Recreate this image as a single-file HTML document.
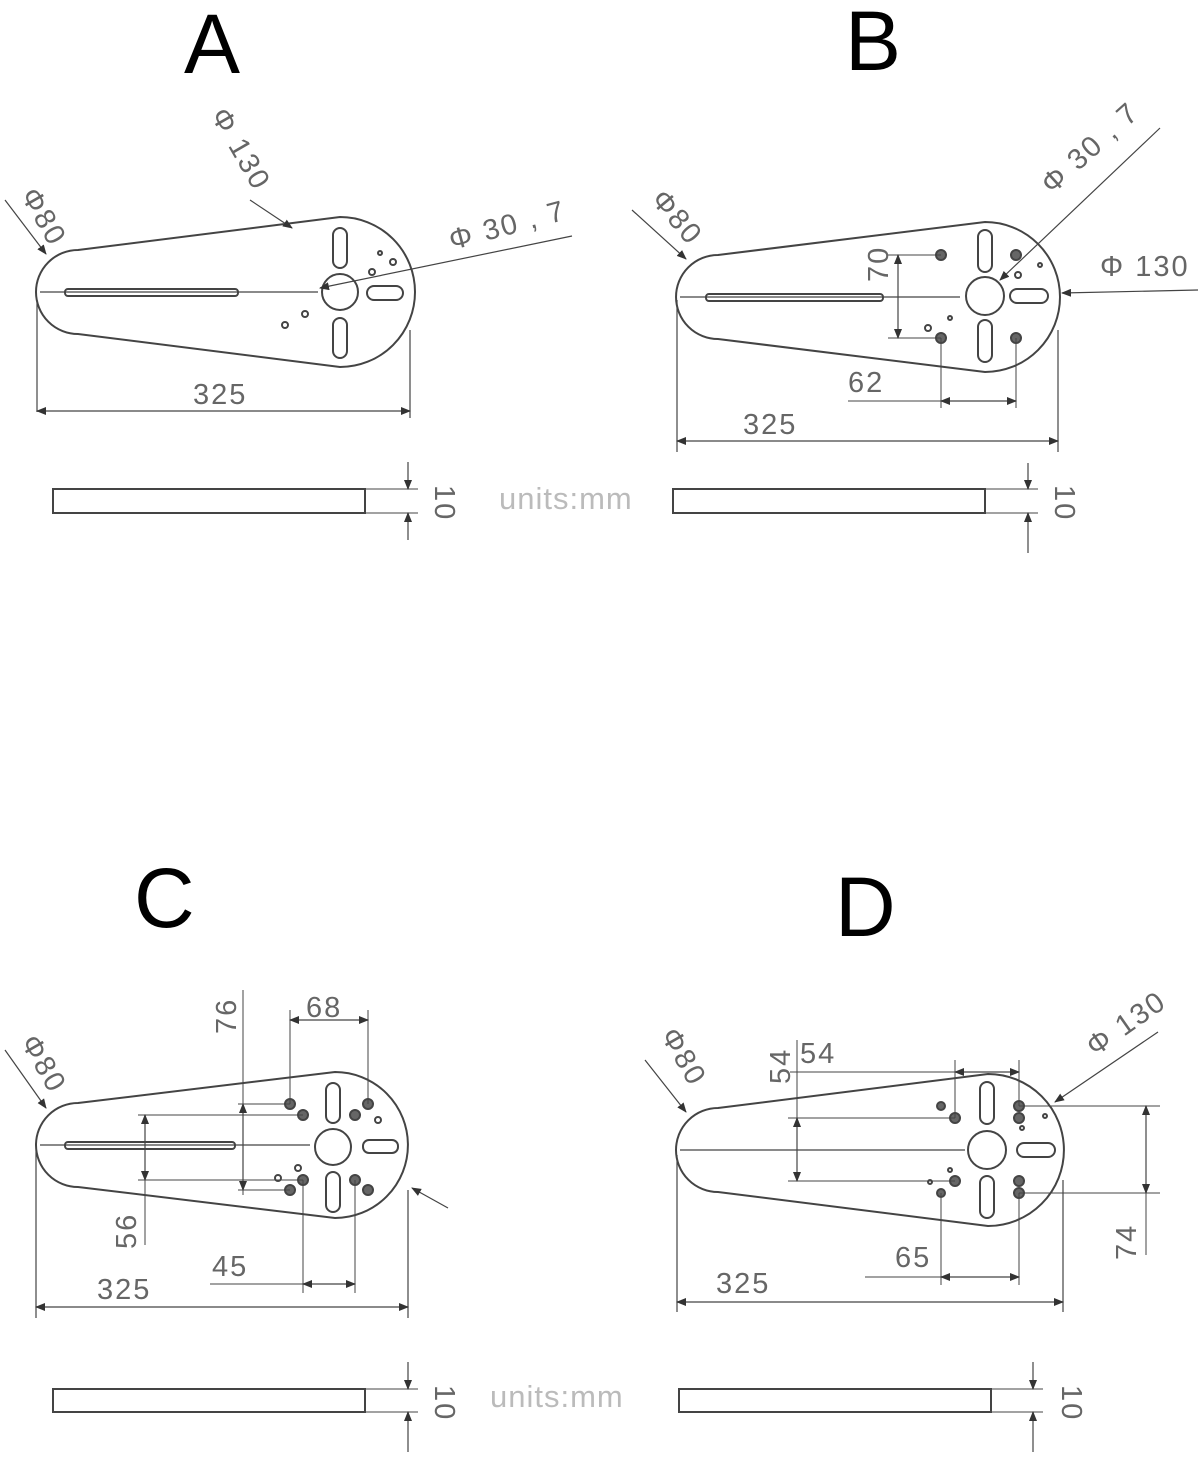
<!DOCTYPE html>
<html><head><meta charset="utf-8"><style>
html,body{margin:0;padding:0;background:#fff;}
svg{display:block}
text{font-family:"Liberation Sans",sans-serif;fill:#555}
.big{font-size:84px;fill:#000}
.d{font-size:29px;fill:#666;letter-spacing:2px}
.u{font-size:31px;fill:#bbb;letter-spacing:1px}
</style></head><body>
<svg width="1203" height="1457" viewBox="0 0 1203 1457" xmlns="http://www.w3.org/2000/svg">
<defs>
<marker id="ar" markerWidth="10" markerHeight="8" refX="9" refY="4" orient="auto-start-reverse" markerUnits="userSpaceOnUse"><path d="M0,0 L10,4 L0,8 z" fill="#333"/></marker>
</defs>
<g stroke="#444" stroke-width="2" fill="none">
<!-- A -->
<path d="M78,250 L340,217 A75,75 0 0 1 340,367 L78,334 A42,42 0 0 1 78,250 Z"/>
<line x1="40" y1="292" x2="318" y2="292" stroke-width="1.2"/>
<rect x="65" y="289" width="173" height="7" rx="3"/>
<circle cx="340" cy="292" r="18"/>
<rect x="333" y="228" width="14" height="40" rx="7"/>
<rect x="333" y="318" width="14" height="40" rx="7"/>
<rect x="367" y="286" width="36" height="14" rx="7"/>
<circle cx="372" cy="272" r="3"/><circle cx="393" cy="262" r="3"/><circle cx="305" cy="314" r="3"/><circle cx="285" cy="325" r="3"/><circle cx="380" cy="253" r="2"/>
<line x1="37" y1="300" x2="37" y2="412" stroke-width="1.2"/>
<line x1="410" y1="330" x2="410" y2="418" stroke-width="1.2"/>
<line x1="37" y1="411" x2="410" y2="411" stroke-width="1.2" marker-start="url(#ar)" marker-end="url(#ar)"/>
<line x1="5" y1="200" x2="46" y2="254" stroke-width="1.2" marker-end="url(#ar)"/>
<line x1="250" y1="200" x2="292" y2="228" stroke-width="1.2" marker-end="url(#ar)"/>
<line x1="572" y1="236" x2="320" y2="288" stroke-width="1.2" marker-end="url(#ar)"/>
<rect x="53" y="489" width="312" height="24"/>
<line x1="365" y1="489" x2="418" y2="489" stroke-width="1"/><line x1="365" y1="513" x2="418" y2="513" stroke-width="1"/>
<line x1="408" y1="462" x2="408" y2="489" stroke-width="1.2" marker-end="url(#ar)"/>
<line x1="408" y1="540" x2="408" y2="513" stroke-width="1.2" marker-end="url(#ar)"/>
<!-- B -->
<path d="M718,255 L985,222 A75,75 0 0 1 985,372 L718,339 A42,42 0 0 1 718,255 Z"/>
<line x1="680" y1="297" x2="960" y2="297" stroke-width="1.2"/>
<rect x="706" y="294" width="177" height="7" rx="3"/>
<circle cx="985" cy="296" r="19"/>
<rect x="978" y="230" width="14" height="42" rx="7"/>
<rect x="978" y="320" width="14" height="42" rx="7"/>
<rect x="1010" y="289" width="38" height="14" rx="7"/>
<circle cx="941" cy="255" r="5" fill="#666"/><circle cx="1016" cy="255" r="5" fill="#666"/><circle cx="941" cy="338" r="5" fill="#666"/><circle cx="1016" cy="338" r="5" fill="#666"/>
<circle cx="1018" cy="275" r="3"/><circle cx="1040" cy="265" r="2"/><circle cx="950" cy="318" r="2"/><circle cx="928" cy="328" r="3"/>
<line x1="888" y1="255" x2="941" y2="255" stroke-width="1"/><line x1="888" y1="338" x2="941" y2="338" stroke-width="1"/>
<line x1="898" y1="255" x2="898" y2="338" stroke-width="1.2" marker-start="url(#ar)" marker-end="url(#ar)"/>
<line x1="941" y1="338" x2="941" y2="408" stroke-width="1"/><line x1="1016" y1="338" x2="1016" y2="408" stroke-width="1"/>
<line x1="848" y1="401" x2="1016" y2="401" stroke-width="1"/>
<line x1="941" y1="401" x2="1016" y2="401" stroke-width="1.2" marker-start="url(#ar)" marker-end="url(#ar)"/>
<line x1="677" y1="300" x2="677" y2="452" stroke-width="1.2"/>
<line x1="1058" y1="330" x2="1058" y2="452" stroke-width="1.2"/>
<line x1="677" y1="441" x2="1058" y2="441" stroke-width="1.2" marker-start="url(#ar)" marker-end="url(#ar)"/>
<line x1="632" y1="210" x2="686" y2="259" stroke-width="1.2" marker-end="url(#ar)"/>
<line x1="1160" y1="128" x2="1000" y2="280" stroke-width="1.2" marker-end="url(#ar)"/>
<line x1="1198" y1="290" x2="1062" y2="293" stroke-width="1.2" marker-end="url(#ar)"/>
<rect x="673" y="489" width="312" height="24"/>
<line x1="985" y1="489" x2="1038" y2="489" stroke-width="1"/><line x1="985" y1="513" x2="1038" y2="513" stroke-width="1"/>
<line x1="1028" y1="463" x2="1028" y2="489" stroke-width="1.2" marker-end="url(#ar)"/>
<line x1="1028" y1="553" x2="1028" y2="513" stroke-width="1.2" marker-end="url(#ar)"/>
<!-- C -->
<path d="M78,1103 L335,1072 A73,73 0 0 1 335,1218 L78,1187 A42,42 0 0 1 78,1103 Z"/>
<line x1="40" y1="1145" x2="310" y2="1145" stroke-width="1.2"/>
<rect x="65" y="1142" width="170" height="7" rx="3"/>
<circle cx="333" cy="1147" r="18"/>
<rect x="326" y="1083" width="14" height="40" rx="7"/>
<rect x="326" y="1172" width="14" height="40" rx="7"/>
<rect x="363" y="1140" width="35" height="13" rx="6"/>
<circle cx="290" cy="1104" r="5" fill="#666"/><circle cx="303" cy="1115" r="5" fill="#666"/><circle cx="290" cy="1190" r="5" fill="#666"/><circle cx="303" cy="1180" r="5" fill="#666"/>
<circle cx="355" cy="1115" r="5" fill="#666"/><circle cx="368" cy="1104" r="5" fill="#666"/><circle cx="355" cy="1180" r="5" fill="#666"/><circle cx="368" cy="1190" r="5" fill="#666"/>
<circle cx="378" cy="1120" r="3"/><circle cx="298" cy="1168" r="3"/><circle cx="278" cy="1178" r="3"/>
<line x1="243" y1="990" x2="243" y2="1195" stroke-width="1"/>
<line x1="243" y1="1104" x2="243" y2="1190" stroke-width="1.2" marker-start="url(#ar)" marker-end="url(#ar)"/>
<line x1="238" y1="1104" x2="290" y2="1104" stroke-width="1"/><line x1="238" y1="1190" x2="290" y2="1190" stroke-width="1"/>
<line x1="138" y1="1115" x2="303" y2="1115" stroke-width="1"/><line x1="138" y1="1180" x2="303" y2="1180" stroke-width="1"/>
<line x1="145" y1="1115" x2="145" y2="1180" stroke-width="1.2" marker-start="url(#ar)" marker-end="url(#ar)"/>
<line x1="145" y1="1180" x2="145" y2="1245" stroke-width="1"/>
<line x1="290" y1="1010" x2="290" y2="1104" stroke-width="1"/><line x1="368" y1="1010" x2="368" y2="1104" stroke-width="1"/>
<line x1="290" y1="1020" x2="368" y2="1020" stroke-width="1.2" marker-start="url(#ar)" marker-end="url(#ar)"/>
<line x1="303" y1="1180" x2="303" y2="1293" stroke-width="1"/><line x1="355" y1="1180" x2="355" y2="1293" stroke-width="1"/>
<line x1="210" y1="1284" x2="355" y2="1284" stroke-width="1"/>
<line x1="303" y1="1284" x2="355" y2="1284" stroke-width="1.2" marker-start="url(#ar)" marker-end="url(#ar)"/>
<line x1="36" y1="1150" x2="36" y2="1318" stroke-width="1.2"/>
<line x1="408" y1="1190" x2="408" y2="1318" stroke-width="1.2"/>
<line x1="36" y1="1307" x2="408" y2="1307" stroke-width="1.2" marker-start="url(#ar)" marker-end="url(#ar)"/>
<line x1="5" y1="1050" x2="46" y2="1108" stroke-width="1.2" marker-end="url(#ar)"/>
<line x1="448" y1="1208" x2="412" y2="1188" stroke-width="1.2" marker-end="url(#ar)"/>
<rect x="53" y="1389" width="312" height="23"/>
<line x1="365" y1="1389" x2="418" y2="1389" stroke-width="1"/><line x1="365" y1="1412" x2="418" y2="1412" stroke-width="1"/>
<line x1="408" y1="1362" x2="408" y2="1389" stroke-width="1.2" marker-end="url(#ar)"/>
<line x1="408" y1="1452" x2="408" y2="1412" stroke-width="1.2" marker-end="url(#ar)"/>
<!-- D -->
<path d="M718,1108 L988,1074 A76,76 0 0 1 988,1226 L718,1192 A42,42 0 0 1 718,1108 Z"/>
<line x1="680" y1="1150" x2="965" y2="1150" stroke-width="1.2"/>
<circle cx="987" cy="1150" r="19"/>
<rect x="980" y="1082" width="14" height="42" rx="7"/>
<rect x="980" y="1176" width="14" height="42" rx="7"/>
<rect x="1017" y="1143" width="38" height="14" rx="7"/>
<circle cx="955" cy="1118" r="5" fill="#666"/><circle cx="941" cy="1106" r="4" fill="#666"/><circle cx="955" cy="1181" r="5" fill="#666"/><circle cx="941" cy="1193" r="4" fill="#666"/>
<circle cx="1019" cy="1106" r="5" fill="#666"/><circle cx="1019" cy="1118" r="5" fill="#666"/><circle cx="1019" cy="1181" r="5" fill="#666"/><circle cx="1019" cy="1193" r="5" fill="#666"/>
<circle cx="1045" cy="1116" r="2"/><circle cx="1022" cy="1128" r="2"/><circle cx="930" cy="1182" r="2"/><circle cx="950" cy="1170" r="2"/>
<line x1="788" y1="1118" x2="955" y2="1118" stroke-width="1"/><line x1="788" y1="1181" x2="955" y2="1181" stroke-width="1"/>
<line x1="797" y1="1040" x2="797" y2="1181" stroke-width="1"/>
<line x1="797" y1="1118" x2="797" y2="1181" stroke-width="1.2" marker-start="url(#ar)" marker-end="url(#ar)"/>
<line x1="790" y1="1072" x2="1019" y2="1072" stroke-width="1"/>
<line x1="955" y1="1072" x2="1019" y2="1072" stroke-width="1.2" marker-start="url(#ar)" marker-end="url(#ar)"/>
<line x1="955" y1="1060" x2="955" y2="1118" stroke-width="1"/><line x1="1019" y1="1060" x2="1019" y2="1106" stroke-width="1"/>
<line x1="1019" y1="1106" x2="1160" y2="1106" stroke-width="1"/><line x1="1019" y1="1193" x2="1160" y2="1193" stroke-width="1"/>
<line x1="1146" y1="1106" x2="1146" y2="1193" stroke-width="1.2" marker-start="url(#ar)" marker-end="url(#ar)"/>
<line x1="1146" y1="1193" x2="1146" y2="1255" stroke-width="1"/>
<line x1="941" y1="1193" x2="941" y2="1285" stroke-width="1"/><line x1="1019" y1="1193" x2="1019" y2="1285" stroke-width="1"/>
<line x1="865" y1="1277" x2="1019" y2="1277" stroke-width="1"/>
<line x1="941" y1="1277" x2="1019" y2="1277" stroke-width="1.2" marker-start="url(#ar)" marker-end="url(#ar)"/>
<line x1="677" y1="1155" x2="677" y2="1312" stroke-width="1.2"/>
<line x1="1063" y1="1180" x2="1063" y2="1312" stroke-width="1.2"/>
<line x1="677" y1="1302" x2="1063" y2="1302" stroke-width="1.2" marker-start="url(#ar)" marker-end="url(#ar)"/>
<line x1="645" y1="1060" x2="686" y2="1112" stroke-width="1.2" marker-end="url(#ar)"/>
<line x1="1158" y1="1032" x2="1055" y2="1102" stroke-width="1.2" marker-end="url(#ar)"/>
<rect x="679" y="1389" width="312" height="23"/>
<line x1="991" y1="1389" x2="1043" y2="1389" stroke-width="1"/><line x1="991" y1="1412" x2="1043" y2="1412" stroke-width="1"/>
<line x1="1033" y1="1362" x2="1033" y2="1389" stroke-width="1.2" marker-end="url(#ar)"/>
<line x1="1033" y1="1452" x2="1033" y2="1412" stroke-width="1.2" marker-end="url(#ar)"/>
</g>
<!-- labels -->
<text class="big" x="184" y="73">A</text>
<text class="big" x="845" y="70">B</text>
<text class="big" x="134" y="927">C</text>
<text class="big" x="835" y="936">D</text>
<text class="d" x="193" y="404">325</text>
<text class="d" x="743" y="434">325</text>
<text class="d" x="97" y="1299">325</text>
<text class="d" x="716" y="1293">325</text>
<text class="d" x="848" y="392">62</text>
<text class="d" x="212" y="1276">45</text>
<text class="d" x="306" y="1017">68</text>
<text class="d" x="800" y="1063">54</text>
<text class="d" x="895" y="1267">65</text>
<text class="d" transform="translate(20,195) rotate(60)">Φ80</text>
<text class="d" transform="translate(650,200) rotate(50)">Φ80</text>
<text class="d" transform="translate(20,1042) rotate(60)">Φ80</text>
<text class="d" transform="translate(660,1035) rotate(60)">Φ80</text>
<text class="d" transform="translate(210,115) rotate(60)">Φ 130</text>
<text class="d" transform="translate(452,250) rotate(-15)">Φ 30 , 7</text>
<text class="d" transform="translate(1052,195) rotate(-42)">Φ 30 , 7</text>
<text class="d" x="1100" y="276">Φ 130</text>
<text class="d" transform="translate(1095,1057) rotate(-35)">Φ 130</text>
<text class="d" transform="translate(888,282) rotate(-90)">70</text>
<text class="d" transform="translate(236,1034) rotate(-90)">76</text>
<text class="d" transform="translate(136,1249) rotate(-90)">56</text>
<text class="d" transform="translate(790,1084) rotate(-90)">54</text>
<text class="d" transform="translate(1136,1260) rotate(-90)">74</text>
<text class="d" transform="translate(435,485) rotate(90)">10</text>
<text class="d" transform="translate(1055,485) rotate(90)">10</text>
<text class="d" transform="translate(435,1385) rotate(90)">10</text>
<text class="d" transform="translate(1062,1385) rotate(90)">10</text>
<text class="u" x="499" y="509">units:mm</text>
<text class="u" x="490" y="1407">units:mm</text>
</svg>
</body></html>
